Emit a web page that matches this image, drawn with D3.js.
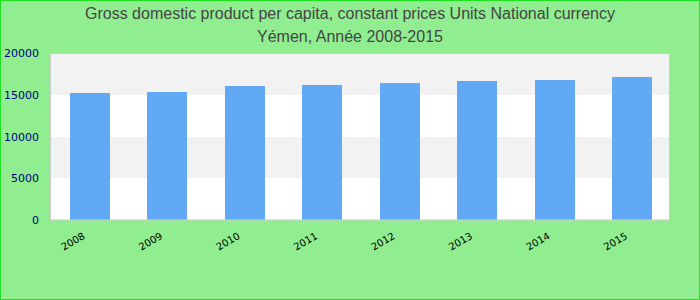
<!DOCTYPE html>
<html>
<head>
<meta charset="utf-8">
<script src="https://cdn.jsdelivr.net/npm/d3@7"></script>
<style>
	body { margin: 0; background: #90ee90; }
	#chart svg { display: block; }
</style>
</head>
<body>
<div id="chart"><svg width="700" height="300"></svg></div>
<script>
var years = ['2008', '2009', '2010', '2011', '2012', '2013', '2014', '2015'];
var gdpValues = [15240, 15360, 16080, 16200, 16440, 16680, 16800, 17160];
var yTicks = [0, 5000, 10000, 15000, 20000];
var titleLines = [
	'Gross domestic product per capita, constant prices Units National currency',
	'Yémen, Année 2008-2015'
];

var margin = { top: 53, left: 50, bottom: 80, right: 30 };
var svg = d3.select('#chart > svg');
var width = 700, height = 300;

// outer frame
svg.append('rect')
	.attr('x', 0.5).attr('y', 0.5)
	.attr('width', width - 1).attr('height', height - 1)
	.attr('fill', '#90ee90')
	.attr('stroke', '#22e022');

// title
svg.selectAll('.title')
	.data(titleLines)
	.enter().append('text')
	.attr('class', 'title')
	.attr('x', 350)
	.attr('y', function(d, i) { return 19 + i * 23 })
	.attr('text-anchor', 'middle')
	.style('font-family', 'Liberation Sans, Arial, sans-serif')
	.style('font-size', '16px')
	.style('fill', '#444')
	.text(function(d) { return d });

var plotW = width - margin.left - margin.right;
var plotH = 220 - margin.top;

var xScale = d3.scaleBand()
	.domain(years)
	.range([ 1, plotW + 1 ])
	.paddingInner(0.484)
	.paddingOuter(0.242);
var yScale = d3.scaleLinear()
	.domain([ 0, 20000 ])
	.range([ plotH, 0 ]);

var group = svg.append('g')
	.attr('transform', 'translate(' + [ margin.left, margin.top ] + ')');

// white plot background, then grey bands
group.append('rect')
	.attr('x', 0).attr('y', 0)
	.attr('width', plotW).attr('height', plotH)
	.attr('fill', '#ffffff');

var bands = d3.pairs(yTicks).filter(function(d, i) { return i % 2 });
group.selectAll('.band')
	.data(bands)
	.enter().append('rect')
	.attr('class', 'band')
	.attr('x', 0)
	.attr('width', plotW)
	.attr('y', function(d) { return Math.round(yScale(d[1])) })
	.attr('height', function(d) { return Math.round(yScale(d[0])) - Math.round(yScale(d[1])) })
	.attr('fill', '#f2f2f2');

// bars
group.selectAll('.bar')
	.data(gdpValues)
	.enter().append('rect')
	.attr('class', 'bar')
	.attr('x', function(d, i) { return Math.round(xScale(years[i])) })
	.attr('width', Math.round(xScale.bandwidth()))
	.attr('y', function(d) { return Math.round(yScale(d)) })
	.attr('height', function(d) { return plotH - Math.round(yScale(d)) })
	.attr('fill', '#61a9f5');

// plot border
group.append('rect')
	.attr('x', 0.5).attr('y', 0.5)
	.attr('width', plotW - 1).attr('height', plotH - 0.5)
	.attr('fill', 'none')
	.attr('stroke', '#cccccc');

// y axis
var yAxis = group.append('g')
	.call(d3.axisLeft(yScale).tickValues(yTicks).tickFormat(d3.format('d')).tickSize(0).tickPadding(11));
yAxis.select('.domain').remove();
yAxis.selectAll('text')
	.style('font-family', 'DejaVu Sans, sans-serif')
	.style('font-size', '11px')
	.style('fill', '#000080');

// x axis
var xAxis = group.append('g')
	.attr('transform', 'translate(0,' + plotH + ')')
	.call(d3.axisBottom(xScale).tickSize(0));
xAxis.select('.domain').remove();
xAxis.selectAll('text')
	.attr('text-anchor', 'end')
	.attr('dy', 0)
	.attr('y', 0)
	.attr('transform', 'translate(-4,18) rotate(-30)')
	.style('font-family', 'DejaVu Sans, sans-serif')
	.style('font-size', '10px')
	.style('fill', '#000');
</script>
</body>
</html>
